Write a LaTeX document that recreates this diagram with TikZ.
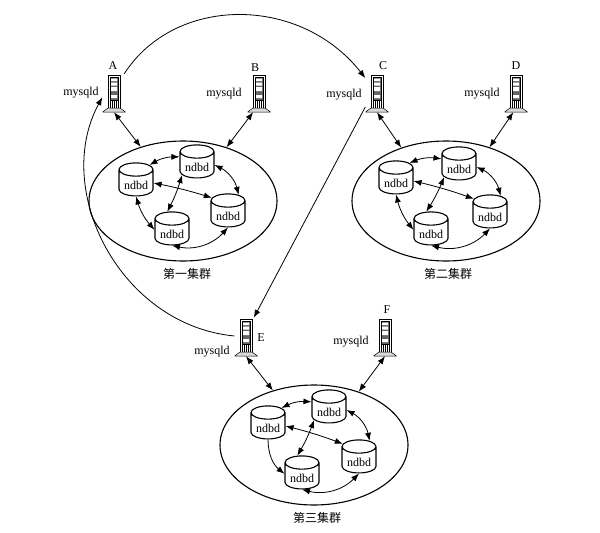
\documentclass[tikz,border=0pt]{standalone}
\usepackage{fontspec}
\setmainfont{Liberation Serif}
\newfontfamily\cjk{Noto Sans CJK SC}
\usetikzlibrary{arrows.meta,positioning,shapes.geometric}

\begin{document}
\begin{tikzpicture}[
  x=1pt, y=-1pt,
  node distance=2pt,
  cluster/.style={ellipse, draw, line width=1.1pt, minimum width=188pt, minimum height=120pt, inner sep=0pt},
  ndbd/.style={cylinder, draw, fill=white, line width=1.1pt, shape border rotate=90, aspect=0.55, minimum width=34pt, minimum height=33pt, inner sep=0pt, text height=12pt, text depth=0pt, font=\fontsize{12}{12}\selectfont},
  srv/.style={minimum width=23pt, minimum height=38pt, inner sep=0pt, path picture={
    \begin{scope}[shift={(path picture bounding box.center)}]
      \draw[fill=white, line width=0.5pt] (-6,-18) -- (6,-18) -- (6,15) -- (-6,15) -- cycle;
      \draw[fill=black!60, line width=0.5pt] (-4,-16) rectangle (4,7);
      \fill[white] (-3,-14.5) rectangle (3,-12) (-3,-10.5) rectangle (3,-7.5) (-3,-6) rectangle (3,-2) (-3,2) rectangle (3,5);
      \draw[line width=0.7pt] (-4,8) -- (-4,15) (-2,8) -- (-2,15) (0,8) -- (0,15) (2,8) -- (2,15) (4,8) -- (4,15);
      \draw[fill=black!15, line width=0.5pt] (-6,15) -- (6,15) -- (11.5,19) -- (-11.5,19) -- cycle;
    \end{scope}}},
  lbl/.style={inner sep=0pt, font=\fontsize{12}{12}\selectfont},
  clustername/.style={inner sep=0pt, font=\cjk\fontsize{12}{12}\selectfont},
  link/.style={{Latex[length=8pt,width=6pt]}-{Latex[length=8pt,width=6pt]}, line width=0.8pt},
  oneway/.style={-{Latex[length=8pt,width=6pt]}, line width=0.8pt}
]
\useasboundingbox (0,0) rectangle (600,533);

\node[srv] (srvA) at (114,93) {};
\node[srv] (srvB) at (259,93) {};
\node[srv] (srvC) at (377,93) {};
\node[srv] (srvD) at (516,93) {};
\node[srv] (srvE) at (246,337) {};
\node[srv] (srvF) at (385,337) {};

\node[lbl] (nameA) at (113,66) {A};
\node[lbl] (nameB) at (255,68) {B};
\node[lbl] (nameC) at (383,66) {C};
\node[lbl] (nameD) at (516,66) {D};
\node[lbl] (nameE) at (261,338) {E};
\node[lbl] (nameF) at (387,310) {F};

\node[lbl] (mysqlA) at (81,93) {mysqld};
\node[lbl] (mysqlB) at (224,94) {mysqld};
\node[lbl] (mysqlC) at (344,95) {mysqld};
\node[lbl] (mysqlD) at (482,94) {mysqld};
\node[lbl] (mysqlE) at (212,352) {mysqld};
\node[lbl] (mysqlF) at (351,342) {mysqld};

\node[cluster] (one) at (183,201) {};
\node[cluster] (two) at (446,201) {};
\node[cluster] (three) at (314,445) {};

\node[clustername, below=7pt of one, xshift=4pt] (nameone) {第一集群};
\node[clustername, below=7pt of two, xshift=2pt] (nametwo) {第二集群};
\node[clustername, below=7pt of three, xshift=3pt] (namethree) {第三集群};

\node[ndbd] (l1) at (136,183) {ndbd};
\node[ndbd] (t1) at (197,165) {ndbd};
\node[ndbd] (r1) at (228,214) {ndbd};
\node[ndbd] (b1) at (172,232) {ndbd};

\node[ndbd] (l2) at (396,181) {ndbd};
\node[ndbd] (t2) at (459,167) {ndbd};
\node[ndbd] (r2) at (490,215) {ndbd};
\node[ndbd] (b2) at (431,232) {ndbd};

\node[ndbd] (l3) at (268,426) {ndbd};
\node[ndbd] (t3) at (329,410) {ndbd};
\node[ndbd] (r3) at (359,460) {ndbd};
\node[ndbd] (b3) at (302,476) {ndbd};

\draw[link] (srvA.south) -- (one.128);
\draw[link] (srvB.-107) -- (one.51);
\draw[link] (srvC.south) -- (two.130);
\draw[link] (srvD.-98) -- (two.51);
\draw[link] (srvE.south) -- (three.127);
\draw[link] (srvF.south) -- (three.50);

\draw[link] (l1.53) to[bend left=15] (t1.155);
\draw[link] (t1.0) to[bend left=25] (r1.61);
\draw[link] (t1.214) to[bend left=5] (b1.103);
\draw[link] (l1.0) to[bend left=3] (r1.135);
\draw[link] (l1.270) to[bend right=12] (b1.173);
\draw[link] (b1.270) to[bend right=30] (r1.270);

\draw[link] (l2.53) to[bend left=15] (t2.155);
\draw[link] (t2.0) to[bend left=25] (r2.61);
\draw[link] (t2.214) to[bend left=5] (b2.103);
\draw[link] (l2.0) to[bend left=3] (r2.135);
\draw[link] (l2.270) to[bend right=12] (b2.173);
\draw[link] (b2.270) to[bend right=30] (r2.270);

\draw[link] (l3.53) to[bend left=15] (t3.155);
\draw[link] (t3.0) to[bend left=25] (r3.61);
\draw[link] (t3.214) to[bend left=5] (b3.103);
\draw[link] (l3.0) to[bend left=3] (r3.135);
\draw[oneway] (l3.270) to[bend right=25] (b3.173);
\draw[link] (b3.270) to[bend right=30] (r3.270);

\draw[oneway] (srvA.62) .. controls (175,-5) and (300,-5) .. (srvC.128);
\draw[oneway] (srvC.-130) -- (srvE.68);
\draw[oneway] (srvE.175) .. controls (120,325) and (52,190) .. (srvA.200);
\end{tikzpicture}
\end{document}
